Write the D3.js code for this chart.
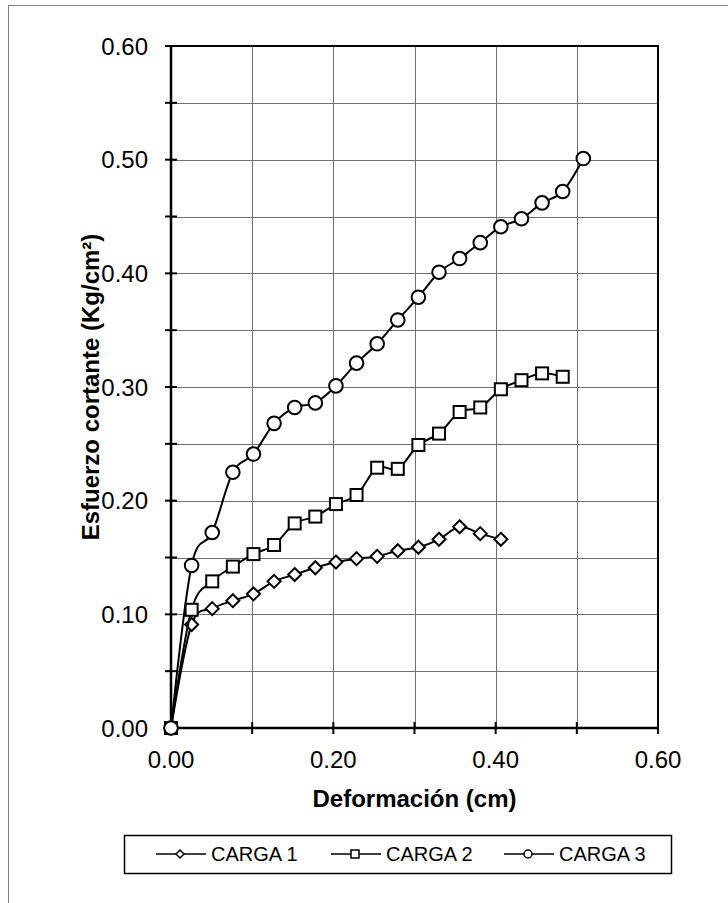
<!DOCTYPE html>
<html>
<head>
<meta charset="utf-8">
<script src="https://cdn.jsdelivr.net/npm/d3@7"></script>
<style>
  body { margin: 0; background: #fff; }
  text { font-family: Arial, "Liberation Sans", sans-serif; }
</style>
</head>
<body>
<div id="chart"></div>
<script>
// deformation readings (cm), steps of 0.01 in
var deformacion = [0, 0.0254, 0.0508, 0.0762, 0.1016, 0.127, 0.1524, 0.1778, 0.2032, 0.2286,
                   0.254, 0.2794, 0.3048, 0.3302, 0.3556, 0.381, 0.4064, 0.4318, 0.4572, 0.4826, 0.508];

var carga1 = [0, 0.091, 0.105, 0.112, 0.118, 0.129, 0.135, 0.141, 0.146, 0.149, 0.151,
              0.156, 0.159, 0.166, 0.177, 0.171, 0.166];
var carga2 = [0, 0.104, 0.129, 0.142, 0.153, 0.161, 0.180, 0.186, 0.197, 0.205, 0.229,
              0.228, 0.249, 0.259, 0.278, 0.282, 0.298, 0.306, 0.312, 0.309];
var carga3 = [0, 0.143, 0.172, 0.225, 0.241, 0.268, 0.282, 0.286, 0.301, 0.321, 0.338,
              0.359, 0.379, 0.401, 0.413, 0.427, 0.441, 0.448, 0.462, 0.472, 0.501];

var seriesNames = ["CARGA 1", "CARGA 2", "CARGA 3"];
var xTicks = [0, 0.2, 0.4, 0.6];
var yTicks = [0, 0.1, 0.2, 0.3, 0.4, 0.5, 0.6];

var width = 728, height = 903;
var pLeft = 171, pRight = 658, pTop = 46, pBottom = 728;

var svg = d3.select("#chart").append("svg")
    .attr("width", width)
    .attr("height", height);

svg.append("rect")
    .attr("width", width).attr("height", height)
    .attr("fill", "#fff");

// outer chart frame
svg.append("rect")
    .attr("x", 8.5).attr("y", 5.5)
    .attr("width", 740).attr("height", 920)
    .attr("fill", "none")
    .attr("stroke", "#808080")
    .attr("stroke-width", 1);

var x = d3.scaleLinear().domain([0, 0.6]).range([pLeft, pRight]);
var y = d3.scaleLinear().domain([0, 0.6]).range([pBottom, pTop]);

// grid
svg.append("g").selectAll("line")
    .data(d3.range(1, 12).map(function(i) { return i * 0.05; }))
    .enter().append("line")
    .attr("x1", pLeft).attr("x2", pRight)
    .attr("y1", function(d) { return Math.round(y(d)) + 0.5; })
    .attr("y2", function(d) { return Math.round(y(d)) + 0.5; })
    .attr("stroke", "#707070").attr("stroke-width", 1);

svg.append("g").selectAll("line")
    .data(d3.range(1, 6).map(function(i) { return i * 0.1; }))
    .enter().append("line")
    .attr("y1", pTop).attr("y2", pBottom)
    .attr("x1", function(d) { return Math.round(x(d)) + 0.5; })
    .attr("x2", function(d) { return Math.round(x(d)) + 0.5; })
    .attr("stroke", "#707070").attr("stroke-width", 1);

// plot border (top, right)
svg.append("path")
    .attr("d", "M" + pLeft + "," + pTop + "H" + pRight + "V" + pBottom)
    .attr("fill", "none").attr("stroke", "#000").attr("stroke-width", 2);

// y axis
var yAxis = svg.append("g").attr("transform", "translate(" + pLeft + ",0)");
yAxis.append("line").attr("y1", pTop - 1).attr("y2", pBottom + 1)
    .attr("stroke", "#000").attr("stroke-width", 2.5);
yAxis.selectAll(".tk")
    .data(d3.range(0, 13).map(function(i) { return i * 0.05; }))
    .enter().append("line")
    .attr("x1", -6).attr("x2", 6)
    .attr("y1", function(d) { return y(d); })
    .attr("y2", function(d) { return y(d); })
    .attr("stroke", "#000").attr("stroke-width", 2);
yAxis.selectAll("text")
    .data(yTicks)
    .enter().append("text")
    .attr("x", -23)
    .attr("y", function(d) { return y(d); })
    .attr("dy", "0.36em")
    .attr("text-anchor", "end")
    .style("font-size", "24px")
    .text(function(d) { return d3.format(".2f")(d); });

// x axis
var xAxis = svg.append("g").attr("transform", "translate(0," + pBottom + ")");
xAxis.append("line").attr("x1", pLeft - 1).attr("x2", pRight + 1)
    .attr("stroke", "#000").attr("stroke-width", 2.5);
xAxis.selectAll(".tk")
    .data(d3.range(0, 7).map(function(i) { return i * 0.1; }))
    .enter().append("line")
    .attr("y1", -6).attr("y2", 6)
    .attr("x1", function(d) { return x(d); })
    .attr("x2", function(d) { return x(d); })
    .attr("stroke", "#000").attr("stroke-width", 2);
xAxis.selectAll("text")
    .data(xTicks)
    .enter().append("text")
    .attr("x", function(d) { return x(d); })
    .attr("y", 40)
    .attr("text-anchor", "middle")
    .style("font-size", "24px")
    .text(function(d) { return d3.format(".2f")(d); });

// axis titles
svg.append("text")
    .attr("x", (pLeft + pRight) / 2)
    .attr("y", 807)
    .attr("text-anchor", "middle")
    .style("font-size", "24px").style("font-weight", "bold")
    .text("Deformación (cm)");

svg.append("text")
    .attr("transform", "translate(99," + (pTop + pBottom) / 2 + ") rotate(-90)")
    .attr("text-anchor", "middle")
    .style("font-size", "24px").style("font-weight", "bold")
    .text("Esfuerzo cortante (Kg/cm²)");

// markers
function marker(sel, type, s) {
  if (type == 0) {
    sel.append("path").attr("d", "M0," + (-s) + "L" + s + ",0L0," + s + "L" + (-s) + ",0Z");
  } else if (type == 1) {
    sel.append("rect").attr("x", -s).attr("y", -s).attr("width", 2 * s).attr("height", 2 * s);
  } else {
    sel.append("circle").attr("r", s);
  }
  sel.attr("fill", "#fff").attr("stroke", "#000");
}

var line = d3.line()
    .x(function(d) { return x(d[0]); })
    .y(function(d) { return y(d[1]); })
    .curve(d3.curveCatmullRom.alpha(0));

var allSeries = [carga1, carga2, carga3];
var markerSize = [6.5, 6, 6.8];

allSeries.forEach(function(vals, k) {
  var pts = vals.map(function(v, i) { return [deformacion[i], v]; });
  var g = svg.append("g");
  g.append("path")
      .attr("d", line(pts))
      .attr("fill", "none")
      .attr("stroke", "#000")
      .attr("stroke-width", 2);
  g.selectAll(".m")
      .data(pts)
      .enter().append("g")
      .attr("transform", function(d) { return "translate(" + x(d[0]) + "," + y(d[1]) + ")"; })
      .each(function() { marker(d3.select(this).attr("stroke-width", 2), k, markerSize[k]); });
});

// legend
var legend = svg.append("g");
legend.append("rect")
    .attr("x", 124.5).attr("y", 835.5)
    .attr("width", 547).attr("height", 38)
    .attr("fill", "#fff").attr("stroke", "#000").attr("stroke-width", 1.5);

var legX = [156, 331, 504];
seriesNames.forEach(function(name, k) {
  var lg = legend.append("g").attr("transform", "translate(" + legX[k] + ",854)");
  lg.append("line").attr("x1", 0).attr("x2", 50)
      .attr("stroke", "#000").attr("stroke-width", 1.5);
  var mk = lg.append("g").attr("transform", "translate(24,0)").attr("stroke-width", 1.5);
  marker(mk, k, 4);
  lg.append("text")
      .attr("x", 55)
      .attr("dy", "0.36em")
      .style("font-size", "20px")
      .text(name);
});
</script>
</body>
</html>
